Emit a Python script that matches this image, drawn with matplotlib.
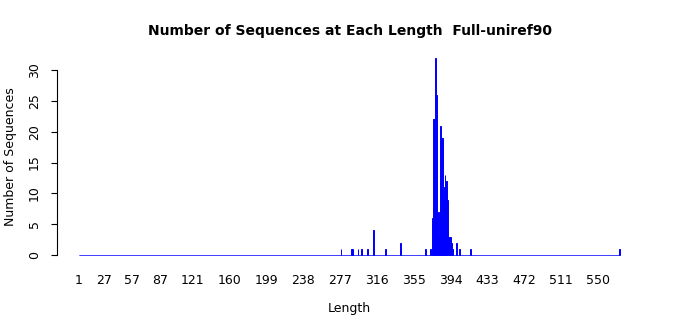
import matplotlib
matplotlib.use("Agg")
import matplotlib.pyplot as plt
import numpy as np

# sequence lengths that occur, and how many sequences have each length
lengths = [278, 289, 290, 296, 300, 306, 312, 325, 341, 367, 373,
           375, 376, 377, 378, 379, 380, 381, 382, 383, 384, 385, 386,
           387, 388, 389, 390, 391, 392, 393, 394, 395, 396,
           400, 403, 415, 573]
counts = [1, 1, 1, 1, 1, 1, 4, 1, 2, 1, 1,
          6, 22, 22, 32, 26, 7, 3, 7, 21, 19, 19, 9,
          11, 13, 12, 12, 9, 3, 3, 3, 2, 1,
          2, 1, 1, 1]
max_len = 573
tick_labels = [1, 27, 57, 87, 121, 160, 199, 238, 277, 316, 355, 394, 433, 472, 511, 550]
y_ticks = [0, 5, 10, 15, 20, 25, 30]

# one bar per length, zeros included (they show as the blue baseline)
all_lengths = np.arange(1, max_len + 1)
all_counts = np.zeros(max_len)
all_counts[np.array(lengths) - 1] = counts

fig = plt.figure(figsize=(7, 3.15), dpi=100)
ax = fig.add_axes([57 / 700, 0.1654, (642 - 57) / 700, 0.6765])

ax.bar(all_lengths, all_counts, width=1.0, color="blue",
       edgecolor="blue", linewidth=0.7)

ax.set_xlim(-22.3, 596.3)
ax.set_ylim(-1.28, 33.28)

for s in ["top", "right", "bottom"]:
    ax.spines[s].set_visible(False)
ax.spines["left"].set_bounds(0, 30)
ax.spines["left"].set_linewidth(0.8)

ax.set_yticks(y_ticks)
ax.set_yticklabels([str(v) for v in y_ticks], rotation=90, va="center", fontsize=9)
ax.tick_params(axis="y", length=4.5, width=0.8, pad=7)

ax.set_xticks(tick_labels)
ax.set_xticklabels([str(v) for v in tick_labels], fontsize=9)
ax.tick_params(axis="x", length=0, pad=8)

ax.set_xlabel("Length", fontsize=9, labelpad=11)
ax.set_ylabel("Number of Sequences", fontsize=9, labelpad=8)
ax.set_title("Number of Sequences at Each Length  Full-uniref90",
             fontsize=10, fontweight="bold", pad=11)

fig.savefig("out.png", dpi=100)
